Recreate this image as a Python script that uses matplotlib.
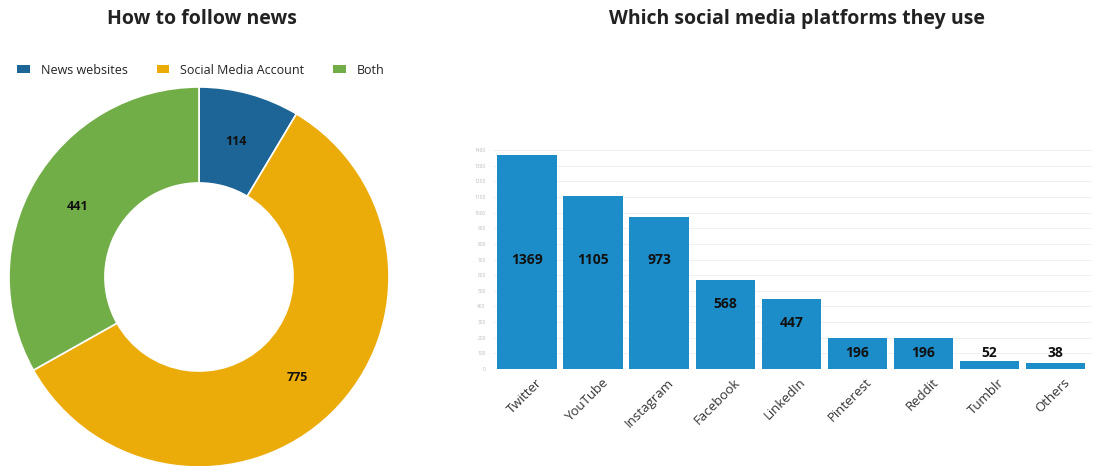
import numpy as np
import matplotlib
matplotlib.use("Agg")
import matplotlib.pyplot as plt
import matplotlib.transforms as mtransforms
from matplotlib.patches import Patch

plt.rcParams["font.family"] = ["Open Sans", "DejaVu Sans"]

# Donut data
follow_labels = ["News websites", "Social Media Account", "Both"]
follow_values = [114, 775, 441]
follow_colors = ["#1d6596", "#ebab09", "#72ae48"]

# Bar data
platforms = ["Twitter", "YouTube", "Instagram", "Facebook", "LinkedIn",
             "Pinterest", "Reddit", "Tumblr", "Others"]
platform_users = [1369, 1105, 973, 568, 447, 196, 196, 52, 38]
bar_color = "#1d8dc9"

fig = plt.figure(figsize=(11.03, 4.66), dpi=100)

W, H = 1103, 466

# ---- donut ----
ax1 = fig.add_axes([9 / W, (H - 467) / H, 380 / W, 380 / H])
wedges, _ = ax1.pie(
    follow_values,
    colors=follow_colors,
    startangle=90,
    counterclock=False,
    radius=1.0,
    wedgeprops=dict(width=0.505, edgecolor="white", linewidth=1.2),
)
total = sum(follow_values)
theta = 90.0
for v in follow_values:
    span = 360.0 * v / total
    mid = np.deg2rad(theta - span / 2)
    r = 0.74
    ax1.text(r * np.cos(mid), r * np.sin(mid), str(v), ha="center", va="center",
             fontsize=9, fontweight="bold", color="#111111")
    theta -= span
ax1.set_xlim(-1, 1)
ax1.set_ylim(-1, 1)
ax1.set_aspect("equal")
ax1.axis("off")

fig.text(202 / W, 1 - 19 / H, "How to follow news", ha="center", va="center",
         fontsize=14, fontweight="bold", color="#222222")

handles = [Patch(facecolor=c, edgecolor="none", label=l)
           for c, l in zip(follow_colors, follow_labels)]
fig.legend(handles=handles, loc="center left", bbox_to_anchor=(6 / W, 1 - 70 / H),
           ncol=3, frameon=False, fontsize=9, handlelength=1.0, handleheight=0.55,
           handletextpad=0.9, columnspacing=2.3, labelcolor="#222222")

# ---- bars ----
ax2 = fig.add_axes([494 / W, 1 - 369 / H, (1092 - 494) / W, (369 - 150) / H])
x = np.arange(len(platforms))
ax2.bar(x, platform_users, width=0.9, color=bar_color, zorder=3)
ax2.set_xlim(-0.5, len(platforms) - 0.45)
ax2.set_ylim(0, 1400)
ax2.set_yticks(np.arange(0, 1401, 100))
ax2.tick_params(axis="y", labelsize=3.5, labelcolor="#bbbbbb", length=0, pad=6)
ax2.set_xticks(x)
ax2.set_xticklabels(platforms, rotation=45, ha="right", rotation_mode="anchor",
                    fontsize=9.5, color="#333333")
ax2.tick_params(axis="x", length=0, pad=5)
shift = mtransforms.ScaledTranslation(8 / 100, 0, fig.dpi_scale_trans)
for lbl in ax2.get_xticklabels():
    lbl.set_transform(lbl.get_transform() + shift)
ax2.grid(axis="y", color="#f0f0f0", linewidth=0.7, zorder=0)
for s in ax2.spines.values():
    s.set_visible(False)

label_y = np.clip(np.array(platform_users) - 150, 100, 700)
for xi, v, ly in zip(x, platform_users, label_y):
    ax2.text(xi, ly, str(v), ha="center", va="center", fontsize=10,
             fontweight="bold", color="#111111", zorder=4)

fig.text(797 / W, 1 - 19 / H, "Which social media platforms they use",
         ha="center", va="center", fontsize=14, fontweight="bold", color="#222222")

fig.savefig("out.png", dpi=100)
